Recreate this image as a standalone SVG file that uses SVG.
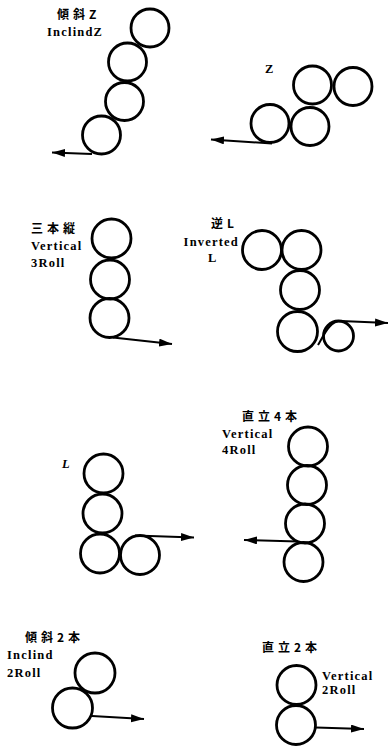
<svg xmlns="http://www.w3.org/2000/svg" width="388" height="748" viewBox="0 0 388 748">
<style>
.roll{fill:none;stroke:#000;stroke-width:2.8}
.conn{fill:none;stroke:#000;stroke-width:2}
.en{font-family:"Liberation Serif","DejaVu Serif",serif;font-weight:bold;font-size:12.5px;fill:#000;letter-spacing:1.2px}
.cjk{font-family:"Noto Sans CJK JP","Noto Sans CJK SC",sans-serif;font-weight:bold;font-size:12px;fill:#000;letter-spacing:4px}
</style>
<defs>
<marker id="ah" markerUnits="userSpaceOnUse" markerWidth="14" markerHeight="9" refX="13" refY="4" orient="auto">
<path d="M0,0 L13,4 L0,8 Z" fill="#000"/>
</marker>
</defs>
<rect width="388" height="748" fill="#fff"/>
<g id="inclined-z">
<circle class="roll" cx="150" cy="28" r="19"/>
<circle class="roll" cx="127.5" cy="62" r="19"/>
<circle class="roll" cx="124.5" cy="101.5" r="19"/>
<circle class="roll" cx="101.5" cy="135" r="19"/>
<text class="cjk" x="57" y="19">傾斜Z</text>
<text class="en" x="47" y="36" letter-spacing="0.4">InclindZ</text>
</g>
<g id="z">
<circle class="roll" cx="270" cy="123.5" r="19"/>
<circle class="roll" cx="310" cy="126.5" r="19"/>
<circle class="roll" cx="312.5" cy="85" r="19"/>
<circle class="roll" cx="353" cy="86.5" r="19"/>
<text class="en" x="265" y="73">Z</text>
</g>
<g id="vertical-3roll">
<circle class="roll" cx="111.5" cy="238.5" r="19.5"/>
<circle class="roll" cx="110" cy="279.5" r="19.5"/>
<circle class="roll" cx="109.5" cy="318" r="19.5"/>
<text class="cjk" x="31" y="233">三本縦</text>
<text class="en" x="31" y="250">Vertical</text>
<text class="en" x="31" y="267">3Roll</text>
</g>
<g id="inverted-l">
<circle class="roll" cx="262" cy="250" r="19.5"/>
<circle class="roll" cx="301.5" cy="250" r="19.5"/>
<circle class="roll" cx="300" cy="290" r="19.5"/>
<circle class="roll" cx="297.5" cy="331.5" r="20"/>
<circle class="roll" cx="338.5" cy="336" r="15"/>
<text class="cjk" x="211" y="228">逆L</text>
<text class="en" x="239" y="246" text-anchor="end" letter-spacing="0">Inverted</text>
<text class="en" x="208" y="262">L</text>
</g>
<g id="l">
<circle class="roll" cx="103.5" cy="473.5" r="19.5"/>
<circle class="roll" cx="102.5" cy="513.5" r="19.5"/>
<circle class="roll" cx="100" cy="553.5" r="19.5"/>
<circle class="roll" cx="140" cy="555" r="19.5"/>
<text class="en" x="62" y="468" font-style="italic" font-weight="normal">L</text>
</g>
<g id="vertical-4roll">
<circle class="roll" cx="308" cy="446.5" r="19.5"/>
<circle class="roll" cx="307" cy="485" r="19.5"/>
<circle class="roll" cx="305" cy="523.5" r="19.5"/>
<circle class="roll" cx="303.5" cy="562" r="19.5"/>
<text class="cjk" x="242" y="421" letter-spacing="7">直立4本</text>
<text class="en" x="222" y="438">Vertical</text>
<text class="en" x="222" y="454">4Roll</text>
</g>
<g id="inclined-2roll">
<circle class="roll" cx="95" cy="673" r="20"/>
<circle class="roll" cx="72.5" cy="708" r="20"/>
<text class="cjk" x="25" y="642" letter-spacing="6">傾斜2本</text>
<text class="en" x="7" y="659">Inclind</text>
<text class="en" x="7" y="677">2Roll</text>
</g>
<g id="vertical-2roll">
<circle class="roll" cx="296.5" cy="685" r="19.5"/>
<circle class="roll" cx="296" cy="725" r="19.5"/>
<text class="cjk" x="262" y="652" letter-spacing="7">直立2本</text>
<text class="en" x="322" y="680">Vertical</text>
<text class="en" x="322" y="694">2Roll</text>
</g>
<g id="connectors">
<path class="conn" d="M92,154 L52,152.5" marker-end="url(#ah)"/>
<path class="conn" d="M272,143.5 L211,139.5" marker-end="url(#ah)"/>
<path class="conn" d="M113,337.5 L172,344" marker-end="url(#ah)"/>
<path class="conn" d="M318,345 C325,333 330,321 341,321 L388,323" marker-end="url(#ah)"/>
<path class="conn" d="M135,535.5 L194,537.5" marker-end="url(#ah)"/>
<path class="conn" d="M298,541.5 L244,540" marker-end="url(#ah)"/>
<path class="conn" d="M92,716 L144,719" marker-end="url(#ah)"/>
<path class="conn" d="M316,727.5 L364,729" marker-end="url(#ah)"/>
</g>
</svg>
